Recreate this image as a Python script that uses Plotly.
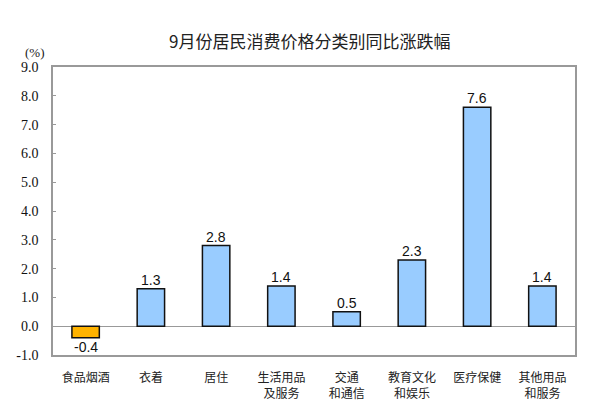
import plotly.graph_objects as go

categories = ["食品烟酒", "衣着", "居住", "生活用品<br>及服务", "交通<br>和通信",
              "教育文化<br>和娱乐", "医疗保健", "其他用品<br>和服务"]
values = [-0.4, 1.3, 2.8, 1.4, 0.5, 2.3, 7.6, 1.4]
y_ticks = [-1.0, 0.0, 1.0, 2.0, 3.0, 4.0, 5.0, 6.0, 7.0, 8.0, 9.0]

colors = ["#FFB300" if v < 0 else "#99CCFF" for v in values]

fig = go.Figure()
fig.add_trace(go.Bar(
    x=categories,
    y=values,
    marker=dict(color=colors, line=dict(color="#111111", width=1.5)),
    width=0.42,
))

# value labels just above / below each bar
labels = []
for cat, v in zip(categories, values):
    labels.append(dict(
        x=cat, y=v, xref="x", yref="y", text=f"{v:.1f}", showarrow=False,
        yanchor="bottom" if v >= 0 else "top",
        yshift=-1 if v >= 0 else 1,
        font=dict(family="Liberation Sans", size=14, color="#111111"),
    ))

labels.append(dict(
    text="(%)", x=-0.035, y=1.05, xref="paper", yref="paper",
    showarrow=False, xanchor="center", yanchor="middle",
    font=dict(family="Liberation Serif", size=13, color="#222222"),
))

# the page adds an 8px body margin, margins below account for it
fig.update_layout(
    width=600,
    height=400,
    margin={"l": 45, "r": 33, "t": 59, "b": 53},
    paper_bgcolor="white",
    plot_bgcolor="white",
    showlegend=False,
    title=dict(
        text="9月份居民消费价格分类别同比涨跌幅",
        x=0.503, xanchor="center", y=0.915, yanchor="middle",
        font=dict(family="Noto Sans CJK SC", size=17, color="#222222"),
    ),
    annotations=labels,
)

fig.update_xaxes(
    automargin=False,
    showline=True, linecolor="#999999", linewidth=1.5, mirror=True,
    ticks="", ticklabelstandoff=11,
    tickfont=dict(family="Noto Sans CJK SC", size=12, color="#222222"),
    showgrid=False,
)
fig.update_yaxes(
    automargin=False,
    range=[-1, 9], tickvals=y_ticks, ticktext=[f"{t:.1f}" for t in y_ticks],
    showline=True, linecolor="#999999", linewidth=1.5, mirror=True,
    ticks="inside", ticklen=3, tickcolor="#999999", ticklabelstandoff=10,
    tickfont=dict(family="Liberation Serif", size=14, color="#111111"),
    showgrid=False, zeroline=True, zerolinecolor="#999999", zerolinewidth=1.2,
)

fig.write_html("out.html")
